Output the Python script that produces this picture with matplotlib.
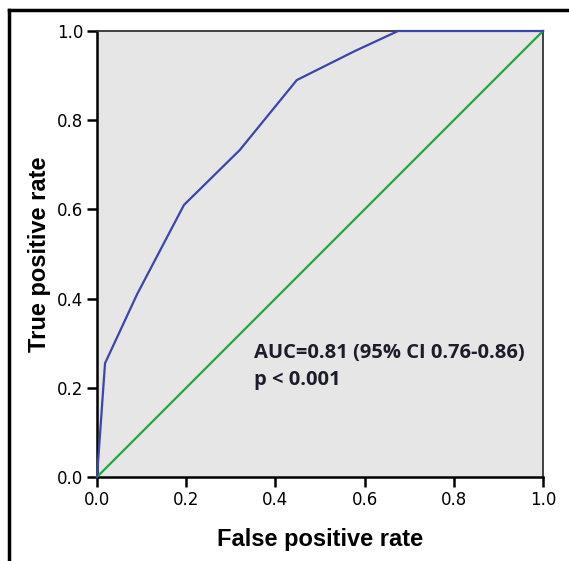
import numpy as np
import matplotlib
matplotlib.use("Agg")
import matplotlib.pyplot as plt
from matplotlib.lines import Line2D

# ROC curve
fpr = [0.0, 0.018, 0.09, 0.195, 0.32, 0.448, 0.578, 0.675, 1.0]
tpr = [0.0, 0.255, 0.41, 0.61, 0.733, 0.89, 0.955, 1.0, 1.0]
ref = [0.0, 1.0]
ticks = [0.0, 0.2, 0.4, 0.6, 0.8, 1.0]
note = "AUC=0.81 (95% CI 0.76-0.86)\np < 0.001"

fig = plt.figure(figsize=(5.69, 5.61), dpi=100)
ax = fig.add_axes([97/569, 1-477/561, 446/569, 446/561])
ax.set_facecolor("#e6e6e6")

ax.plot(ref, ref, color="#1ea83a", lw=1.6, clip_on=False, zorder=3)
ax.plot(fpr, tpr, color="#3a46ac", lw=1.6, clip_on=False, zorder=4)

ax.set_xlim(0, 1)
ax.set_ylim(0, 1)
ax.set_xticks(ticks)
ax.set_yticks(ticks)
ax.set_xticklabels(["%.1f" % t for t in ticks])
ax.set_yticklabels(["%.1f" % t for t in ticks])
ax.tick_params(direction="out", length=7, width=1.8, labelsize=12, pad=3)

for s in ["left", "bottom"]:
    ax.spines[s].set_linewidth(1.8)
    ax.spines[s].set_color("black")
for s in ["top", "right"]:
    ax.spines[s].set_linewidth(1.3)
    ax.spines[s].set_color("#333333")

ax.set_xlabel("False positive rate", fontsize=17, fontweight="bold",
              family="Liberation Sans", labelpad=14)
ax.set_ylabel("True positive rate", fontsize=17, fontweight="bold",
              family="Liberation Sans", labelpad=4)

ax.text(0.352, 0.30, note, fontsize=14.5, fontweight="bold", family="Open Sans",
        color="#1c1c2a", linespacing=1.45, va="top", ha="left")

# outer frame of the figure (left and top only)
fig.add_artist(Line2D([9/569, 9/569], [0, 1-10/561], color="black", lw=2.5,
                      transform=fig.transFigure))
fig.add_artist(Line2D([9/569, 1], [1-10/561, 1-10/561], color="black", lw=2.5,
                      transform=fig.transFigure))

fig.savefig("out.png", dpi=100)
